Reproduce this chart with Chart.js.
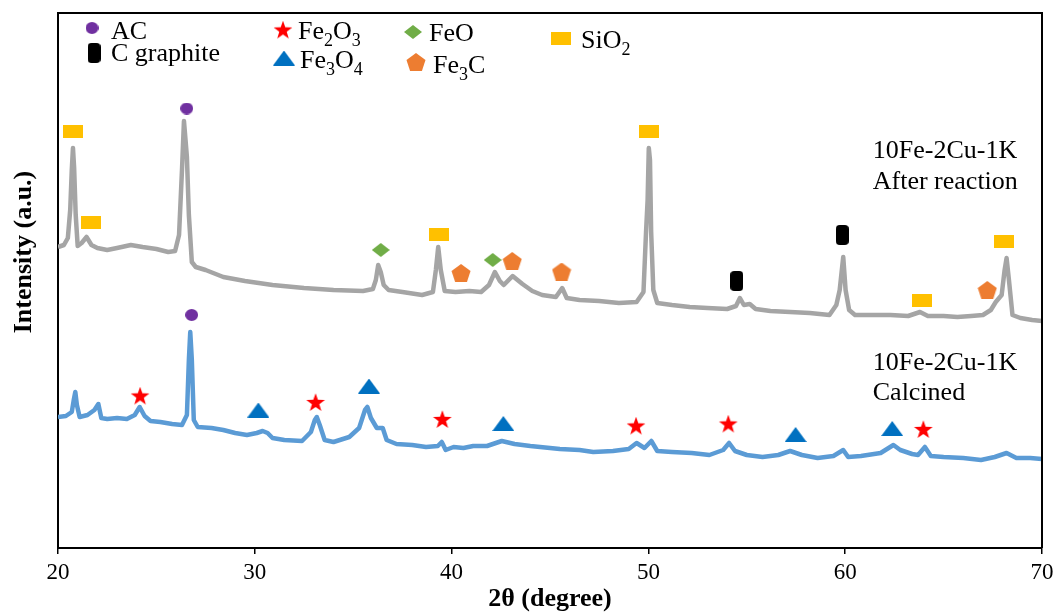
<!DOCTYPE html>
<html>
<head>
<meta charset="utf-8">
<title>XRD patterns 10Fe-2Cu-1K</title>
<script src="https://cdn.jsdelivr.net/npm/chart.js@4.4.1/dist/chart.umd.min.js"></script>
<style>
  html, body { margin: 0; padding: 0; background: #fff; }
  #wrap { width: 1060px; height: 615px; }
</style>
</head>
<body>
<div id="wrap"><canvas id="xrdChart"></canvas></div>
<script>
// Diffractogram after reaction (2θ in degrees, intensity in a.u.)
const afterTheta = [
  20.00, 20.30, 20.50, 20.62, 20.70, 20.76, 20.82, 20.90, 21.00, 21.20, 21.45, 21.70,
  22.00, 22.50, 23.00, 23.70, 24.30, 25.00, 25.60, 25.95, 26.15, 26.30, 26.40, 26.48,
  26.55, 26.65, 26.80, 27.00, 27.50, 28.40, 29.50, 30.90, 32.50, 34.00, 35.50, 36.00,
  36.15, 36.27, 36.40, 36.55, 36.80, 37.50, 38.50, 39.05, 39.20, 39.32, 39.45, 39.65,
  40.20, 40.90, 41.50, 41.90, 42.20, 42.45, 42.65, 43.10, 43.60, 44.10, 44.60, 45.30,
  45.62, 45.85, 46.50, 47.50, 48.50, 49.40, 49.75, 49.88, 49.96, 50.02, 50.08, 50.14,
  50.25, 50.45, 51.20, 52.10, 53.00, 54.00, 54.45, 54.65, 54.85, 55.15, 55.45, 56.20,
  57.20, 58.20, 59.20, 59.55, 59.72, 59.90, 60.02, 60.20, 60.50, 61.40, 62.30, 63.20,
  63.80, 64.20, 65.00, 65.70, 66.40, 67.00, 67.40, 67.65, 67.95, 68.10, 68.20, 68.32,
  68.50, 68.90, 69.50, 70.00
];
const afterIntensity = [
  602, 606, 620, 676, 756, 800, 760, 666, 604, 610, 622, 606,
  600, 596, 600, 606, 602, 598, 592, 594, 626, 756, 854, 816,
  782, 666, 572, 562, 556, 542, 534, 526, 520, 516, 514, 518,
  536, 566, 552, 526, 516, 512, 506, 512, 556, 602, 556, 514,
  512, 514, 512, 526, 552, 534, 526, 544, 528, 514, 506, 502,
  520, 500, 496, 494, 490, 492, 512, 632, 696, 800, 776, 632,
  516, 490, 486, 482, 480, 478, 484, 500, 486, 488, 478, 474,
  472, 470, 466, 486, 516, 582, 516, 476, 466, 466, 466, 464,
  472, 464, 464, 462, 464, 466, 476, 492, 506, 556, 580, 536,
  466, 460, 456, 454
];

// Diffractogram of the calcined sample
const calcinedTheta = [
  20.00, 20.40, 20.70, 20.80, 20.88, 20.96, 21.10, 21.50, 21.85, 22.05, 22.20, 22.50,
  23.00, 23.50, 23.90, 24.15, 24.40, 24.70, 25.20, 25.80, 26.30, 26.55, 26.65, 26.72,
  26.80, 26.90, 27.10, 27.80, 28.40, 29.00, 29.60, 30.10, 30.40, 30.65, 30.90, 31.50,
  32.40, 32.85, 33.05, 33.15, 33.30, 33.55, 34.00, 34.80, 35.30, 35.60, 35.72, 35.90,
  36.20, 36.50, 36.70, 37.20, 38.00, 38.70, 39.30, 39.50, 39.70, 40.10, 40.60, 41.10,
  41.80, 42.55, 43.20, 44.00, 44.50, 45.50, 46.50, 47.20, 48.20, 49.00, 49.40, 49.80,
  50.15, 50.45, 51.20, 52.20, 53.10, 53.80, 54.10, 54.40, 55.00, 55.80, 56.60, 57.20,
  57.80, 58.60, 59.40, 59.90, 60.15, 60.80, 61.80, 62.45, 62.80, 63.40, 63.70, 64.05,
  64.35, 65.00, 66.00, 66.90, 67.60, 68.20, 68.70, 69.40, 70.00
];
const calcinedIntensity = [
  262, 264, 272, 296, 312, 286, 262, 266, 276, 288, 260, 258,
  260, 258, 266, 282, 264, 254, 252, 248, 246, 266, 376, 432,
  376, 256, 242, 240, 236, 230, 226, 230, 234, 230, 220, 216,
  214, 232, 256, 262, 246, 216, 212, 222, 240, 276, 282, 260,
  240, 240, 216, 208, 206, 202, 204, 212, 196, 202, 200, 204,
  204, 214, 208, 204, 202, 198, 196, 192, 194, 198, 210, 200,
  214, 194, 192, 190, 186, 196, 210, 194, 186, 182, 186, 194,
  186, 180, 184, 196, 182, 184, 190, 206, 196, 188, 186, 202,
  184, 182, 180, 176, 182, 190, 180, 180, 178
];

// Phase markers placed above the assigned reflections
const acTheta = [26.54, 26.79];
const acHeight = [879, 466];
const graphiteTheta = [54.49, 59.85];
const graphiteHeight = [534, 626];
const fe2o3Theta = [24.17, 33.09, 39.53, 49.37, 54.06, 63.97];
const fe2o3Height = [304, 291, 257, 244, 248, 237];
const fe3o4Theta = [30.18, 35.80, 42.63, 57.48, 62.39];
const fe3o4Height = [276, 324, 249, 227, 239];
const feoTheta = [36.40, 42.09];
const feoHeight = [596, 576];
const fe3cTheta = [40.48, 43.08, 45.59, 67.22];
const fe3cHeight = [550, 574, 553, 516];
const sio2Theta = [20.78, 21.68, 39.36, 50.03, 63.89, 68.08];
const sio2Height = [833, 652, 627, 834, 496, 613];

const xTicks = [20, 30, 40, 50, 60, 70];

const SERIF = "'Liberation Serif', 'Times New Roman', serif";

// small canvases used as point styles
function makeMarker(w, h, color, shape) {
  const c = document.createElement('canvas');
  c.width = w;
  c.height = h;
  const g = c.getContext('2d');
  g.fillStyle = color;
  g.beginPath();
  shape(g, w, h);
  g.closePath();
  g.fill();
  return c;
}

function polygon(g, pts) {
  pts.forEach(([px, py], i) => (i ? g.lineTo(px, py) : g.moveTo(px, py)));
}

const markerAC = makeMarker(13, 12, '#7030A0', (g, w, h) =>
  g.ellipse(w / 2, h / 2, w / 2, h / 2, 0, 0, Math.PI * 2));

const markerGraphite = makeMarker(13, 20, '#000000', (g, w, h) => {
  if (g.roundRect) g.roundRect(0, 0, w, h, 4);
  else g.rect(0, 0, w, h);
});

const markerFe2O3 = makeMarker(20, 19, '#FF0000', (g, w, h) => {
  const pts = [];
  for (let i = 0; i < 10; i++) {
    const r = i % 2 ? 3.9 : 9.8;
    const a = -Math.PI / 2 + i * Math.PI / 5;
    pts.push([w / 2 + r * Math.cos(a), 10 + r * Math.sin(a)]);
  }
  polygon(g, pts);
});

const markerFe3O4 = makeMarker(22, 15, '#0070C0', (g, w, h) =>
  polygon(g, [[0, h], [w / 2, 0], [w, h]]));

const markerFeO = makeMarker(18, 14, '#70AD47', (g, w, h) =>
  polygon(g, [[w / 2, 0], [w, h / 2], [w / 2, h], [0, h / 2]]));

const markerFe3C = makeMarker(20, 18, '#ED7D31', (g, w, h) => {
  const pts = [];
  for (let i = 0; i < 5; i++) {
    const a = -Math.PI / 2 + i * 2 * Math.PI / 5;
    pts.push([w / 2 + 10 * Math.cos(a), 10 + 10 * Math.sin(a)]);
  }
  polygon(g, pts);
});

const markerSiO2 = makeMarker(20, 13, '#FFC000', (g, w, h) => g.rect(0, 0, w, h));

function pairs(xs, ys) {
  return xs.map((x, i) => ({ x, y: ys[i] }));
}

function patternDataset(label, xs, ys, color) {
  return {
    type: 'line',
    label,
    data: pairs(xs, ys),
    borderColor: color,
    borderWidth: 4.5,
    borderJoinStyle: 'round',
    pointRadius: 0,
    tension: 0,
    fill: false,
    order: 1
  };
}

function markerDataset(label, xs, ys, style) {
  return {
    type: 'scatter',
    label,
    data: pairs(xs, ys),
    pointStyle: style,
    pointRadius: 6,
    pointHoverRadius: 6,
    showLine: false,
    order: 0
  };
}

// chemical formula with subscripts, e.g. [['Fe'], ['2', 1], ['O'], ['3', 1]]
function drawFormula(ctx, parts, x, y, size) {
  let cx = x;
  parts.forEach(([txt, sub]) => {
    ctx.font = (sub ? Math.round(size * 0.68) : size) + 'px ' + SERIF;
    ctx.fillText(txt, cx, sub ? y + 7 : y);
    cx += ctx.measureText(txt).width;
  });
}

const legendItems = [
  { marker: markerAC, mx: 92, my: 28, parts: [['AC']], tx: 111, ty: 39 },
  { marker: markerGraphite, mx: 94, my: 53, parts: [['C graphite']], tx: 111, ty: 61 },
  { marker: markerFe2O3, mx: 283, my: 30, parts: [['Fe'], ['2', 1], ['O'], ['3', 1]], tx: 298, ty: 39 },
  { marker: markerFe3O4, mx: 284, my: 58, parts: [['Fe'], ['3', 1], ['O'], ['4', 1]], tx: 300, ty: 68 },
  { marker: markerFeO, mx: 413, my: 32, parts: [['FeO']], tx: 429, ty: 41 },
  { marker: markerFe3C, mx: 416, my: 62, parts: [['Fe'], ['3', 1], ['C']], tx: 433, ty: 73 },
  { marker: markerSiO2, mx: 561, my: 38, parts: [['Si'], ['O'], ['2', 1]], tx: 581, ty: 48 }
];

const sampleLabels = [
  { text: '10Fe-2Cu-1K', theta: 61.4, y: 158 },
  { text: 'After reaction', theta: 61.4, y: 189 },
  { text: '10Fe-2Cu-1K', theta: 61.4, y: 370 },
  { text: 'Calcined', theta: 61.4, y: 400 }
];

const framePlugin = {
  id: 'frameAndNotes',
  afterDraw(chart) {
    const { ctx, chartArea: a, scales } = chart;
    ctx.save();
    // top and right edges of the box
    ctx.strokeStyle = '#000';
    ctx.lineWidth = 2;
    ctx.beginPath();
    ctx.moveTo(a.left - 1, a.top);
    ctx.lineTo(a.right, a.top);
    ctx.lineTo(a.right, a.bottom);
    ctx.stroke();

    // phase legend
    ctx.fillStyle = '#000';
    ctx.textBaseline = 'alphabetic';
    ctx.textAlign = 'left';
    legendItems.forEach(it => {
      const m = it.marker;
      ctx.drawImage(m, it.mx - m.width / 2, it.my - m.height / 2);
      drawFormula(ctx, it.parts, it.tx, it.ty, 26);
    });

    // sample names
    ctx.font = '26px ' + SERIF;
    sampleLabels.forEach(l => {
      ctx.fillText(l.text, scales.x.getPixelForValue(l.theta), l.y);
    });

    // y axis title
    ctx.translate(24, 252);
    ctx.rotate(-Math.PI / 2);
    ctx.textAlign = 'center';
    ctx.textBaseline = 'middle';
    ctx.font = 'bold 26px ' + SERIF;
    ctx.fillText('Intensity (a.u.)', 0, 0);
    ctx.restore();
  }
};

Chart.defaults.font.family = SERIF;
Chart.defaults.color = '#000';

new Chart(document.getElementById('xrdChart'), {
  data: {
    datasets: [
      markerDataset('AC', acTheta, acHeight, markerAC),
      markerDataset('C graphite', graphiteTheta, graphiteHeight, markerGraphite),
      markerDataset('Fe2O3', fe2o3Theta, fe2o3Height, markerFe2O3),
      markerDataset('Fe3O4', fe3o4Theta, fe3o4Height, markerFe3O4),
      markerDataset('FeO', feoTheta, feoHeight, markerFeO),
      markerDataset('Fe3C', fe3cTheta, fe3cHeight, markerFe3C),
      markerDataset('SiO2', sio2Theta, sio2Height, markerSiO2),
      patternDataset('10Fe-2Cu-1K After reaction', afterTheta, afterIntensity, '#A5A5A5'),
      patternDataset('10Fe-2Cu-1K Calcined', calcinedTheta, calcinedIntensity, '#5B9BD5')
    ]
  },
  options: {
    responsive: true,
    maintainAspectRatio: false,
    devicePixelRatio: 1,
    animation: false,
    layout: { padding: { top: 13, right: 18, left: 0, bottom: 0 } },
    plugins: {
      legend: { display: false },
      tooltip: { enabled: false }
    },
    scales: {
      x: {
        type: 'linear',
        min: 20,
        max: 70,
        afterBuildTicks: scale => { scale.ticks = xTicks.map(v => ({ value: v })); },
        ticks: { color: '#000', font: { size: 23 }, padding: 5, maxRotation: 0 },
        grid: { drawOnChartArea: false, drawTicks: true, tickLength: 6, color: '#000', lineWidth: 1.5 },
        border: { display: true, color: '#000', width: 2 },
        title: {
          display: true,
          text: '2θ (degree)',
          color: '#000',
          font: { size: 26, weight: 'bold' },
          padding: 0
        },
        afterFit: scale => { scale.height = 67; }
      },
      y: {
        type: 'linear',
        min: 0,
        max: 1070,
        ticks: { display: false },
        grid: { display: false },
        border: { display: true, color: '#000', width: 2 },
        afterFit: scale => { scale.width = 58; }
      }
    }
  },
  plugins: [framePlugin]
});
</script>
</body>
</html>
